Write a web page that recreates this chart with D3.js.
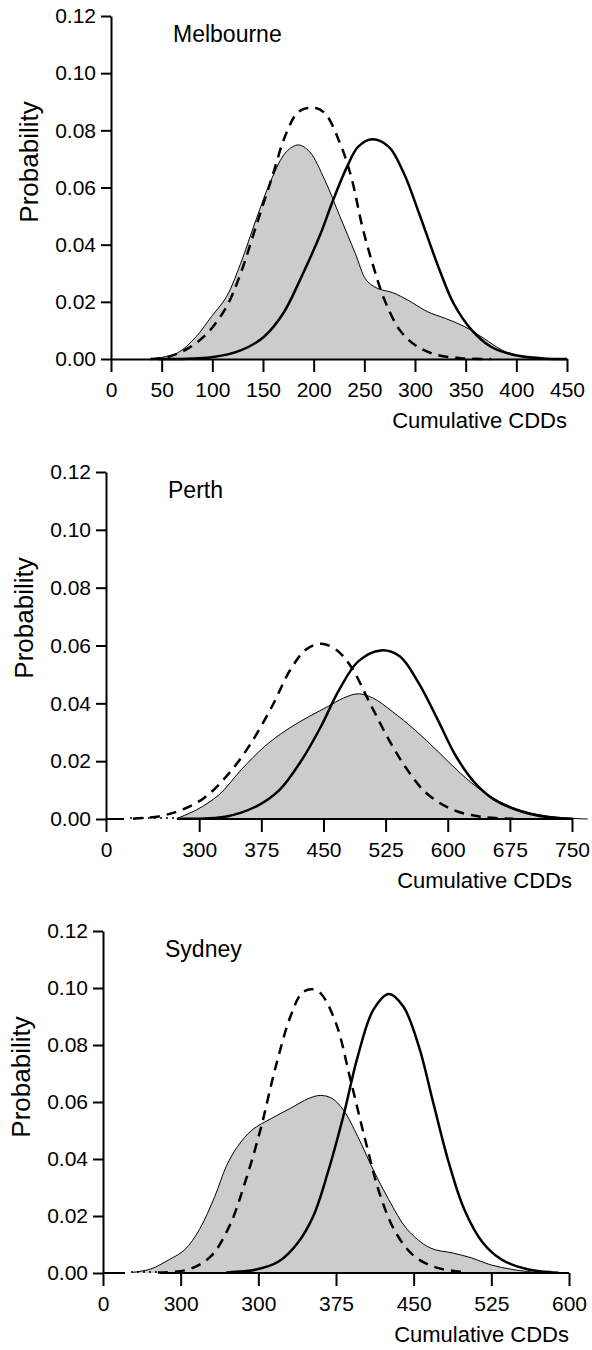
<!DOCTYPE html>
<html lang="en">
<head>
<meta charset="UTF-8">
<title>Cumulative CDDs</title>
<script src="https://d3js.org/d3.v7.min.js"></script>
<style>
  body { margin: 0; background: #fff; }
  svg { display: block; }
  text { font-family: "Liberation Sans", Arial, sans-serif; fill: #000; }
  .tick text { font-size: 21px; }
  .tick line, .domain, .base { stroke: #000; stroke-width: 2; }
</style>
</head>
<body>
<svg id="canvas" width="592" height="1350"></svg>
<script>
// y axis shared by all panels
let yTicks = [0, 0.02, 0.04, 0.06, 0.08, 0.10, 0.12]

// Melbourne
let melTicks = [0, 50, 100, 150, 200, 250, 300, 350, 400, 450]
let melTickLabels = ['0', '50', '100', '150', '200', '250', '300', '350', '400', '450']
let melObserved = [[39, 0], [65, 0.002], [84, 0.0078], [99, 0.0148], [114, 0.0218], [128, 0.0335], [143, 0.0486],
  [158, 0.0626], [173, 0.0725], [185, 0.0749], [196, 0.0725], [211, 0.0626], [226, 0.0498], [241, 0.037],
  [252, 0.0276], [263, 0.0247], [278, 0.0232], [293, 0.0206], [312, 0.0166], [330, 0.0142], [349, 0.0113],
  [368, 0.0072], [386, 0.0031], [405, 0.0008], [420, 0]]
let melDashed = [[39, 0], [57, 0.0008], [76, 0.0037], [95, 0.009], [114, 0.0183], [128, 0.03], [143, 0.0463],
  [158, 0.0626], [173, 0.079], [185, 0.0865], [199, 0.088], [211, 0.086], [226, 0.0755], [237, 0.0638],
  [248, 0.0463], [259, 0.0323], [270, 0.0206], [285, 0.0101], [300, 0.0049], [319, 0.0017], [345, 0.0003], [375, 0]]
let melSolid = [[46, 0], [99, 0.0006], [128, 0.003], [151, 0.0078], [170, 0.016], [188, 0.0288], [207, 0.044],
  [218, 0.0545], [233, 0.0673], [244, 0.0743], [258, 0.0769], [274, 0.0743], [289, 0.065], [304, 0.051],
  [323, 0.0323], [338, 0.0195], [356, 0.0101], [375, 0.0043], [398, 0.0014], [431, 0.0001], [450, 0]]

// Perth
let perthTicks = [187.5, 300, 375, 450, 525, 600, 675, 750]
let perthTickLabels = ['0', '300', '375', '450', '525', '600', '675', '750']
let perthObserved = [[274, 0.0003], [297, 0.0032], [324, 0.0084], [351, 0.0171], [379, 0.0251], [406, 0.0309],
  [433, 0.0355], [456, 0.039], [474, 0.0418], [492, 0.0433], [510, 0.0418], [533, 0.0372], [560, 0.0309],
  [588, 0.0234], [615, 0.0159], [642, 0.0096], [670, 0.005], [697, 0.0023], [724, 0.0009], [751, 0.0002], [769, 0]]
let perthDashed = [[220, 0.0001], [251, 0.0009], [279, 0.0032], [306, 0.0073], [333, 0.0148], [360, 0.0251],
  [388, 0.039], [410, 0.0516], [429, 0.0586], [447, 0.0606], [465, 0.0586], [483, 0.0528], [506, 0.0401],
  [529, 0.0274], [551, 0.0171], [574, 0.009], [606, 0.0032], [642, 0.0007], [679, 0.0001]]
let perthSolid = [[274, 0.0001], [333, 0.0009], [369, 0.0044], [397, 0.0101], [424, 0.0205], [447, 0.032],
  [469, 0.0447], [492, 0.0545], [519, 0.0583], [542, 0.0563], [565, 0.047], [588, 0.0343], [610, 0.0217],
  [633, 0.0124], [656, 0.0067], [688, 0.0027], [719, 0.0007], [751, 0.0001]]

// Sydney
let sydTicks = [150, 225, 300, 375, 450, 525, 600]
let sydTickLabels = ['0', '300', '300', '375', '450', '525', '600']
let sydObserved = [[178, 0.0002], [196, 0.0014], [214, 0.0047], [229, 0.0082], [243, 0.0152], [258, 0.0269],
  [269, 0.0374], [280, 0.0444], [294, 0.0502], [313, 0.0543], [331, 0.0578], [349, 0.0613], [360, 0.0623],
  [371, 0.0613], [382, 0.0573], [396, 0.0479], [411, 0.0362], [426, 0.0257], [444, 0.0152], [466, 0.0088],
  [488, 0.007], [506, 0.0053], [524, 0.0029], [546, 0.0012], [568, 0.0002]]
let sydDashed = [[203, 0.0002], [232, 0.0012], [254, 0.0058], [272, 0.0164], [287, 0.0316], [302, 0.0502],
  [316, 0.0713], [331, 0.09], [342, 0.0982], [351, 0.0996], [360, 0.0982], [375, 0.0876], [389, 0.0678],
  [404, 0.0456], [418, 0.0269], [433, 0.014], [451, 0.0058], [473, 0.0018], [502, 0.0002]]
let sydSolid = [[269, 0.0002], [298, 0.0012], [320, 0.0041], [338, 0.0105], [353, 0.0199], [367, 0.0351],
  [382, 0.0549], [396, 0.076], [411, 0.0923], [426, 0.0979], [440, 0.0935], [455, 0.0795], [469, 0.0596],
  [484, 0.0386], [499, 0.0222], [517, 0.0105], [535, 0.0047], [561, 0.0012], [590, 0.0001]]

let panels = [
  { name: 'Melbourne', domain: [0, 450], left: 111, right: 567, top: 16, bottom: 359,
    ticks: melTicks, labels: melTickLabels, observed: melObserved, dashed: melDashed, solid: melSolid },
  { name: 'Perth', domain: [187.5, 750], left: 106, right: 572, top: 472, bottom: 819,
    ticks: perthTicks, labels: perthTickLabels, observed: perthObserved, dashed: perthDashed, solid: perthSolid,
    stub: 18, breakEnd: 273 },
  { name: 'Sydney', domain: [150, 600], left: 103, right: 569, top: 931, bottom: 1273,
    ticks: sydTicks, labels: sydTickLabels, observed: sydObserved, dashed: sydDashed, solid: sydSolid,
    stub: 22, breakEnd: 205 }
]

let canvas = d3.select('#canvas')

let drawPanel = (p) => {
  let x = d3.scaleLinear().domain(p.domain).range([p.left, p.right])
  let y = d3.scaleLinear().domain([0, 0.12]).range([p.bottom, p.top])
  let g = canvas.append('g')

  let smooth = d3.curveCatmullRom.alpha(0.5)
  let area = d3.area()
    .x(d => x(d[0])).y0(y(0)).y1(d => Math.min(y(d[1]), y(0)))
    .curve(smooth)
  let line = d3.line()
    .x(d => x(d[0])).y(d => y(d[1]))
    .curve(smooth)

  g.append('path')
    .attr('d', area(p.observed))
    .attr('fill', '#cccccc')
    .attr('stroke', 'none')
  g.append('path')
    .attr('d', line(p.observed))
    .attr('fill', 'none')
    .attr('stroke', '#000')
    .attr('stroke-width', 1)
  g.append('path')
    .attr('d', line(p.dashed))
    .attr('fill', 'none')
    .attr('stroke', '#000')
    .attr('stroke-width', 2.5)
    .attr('stroke-dasharray', '10,7')
  g.append('path')
    .attr('d', line(p.solid))
    .attr('fill', 'none')
    .attr('stroke', '#000')
    .attr('stroke-width', 2.5)

  // x axis
  let xAxis = g.append('g')
    .attr('transform', 'translate(0,' + p.bottom + ')')
    .call(d3.axisBottom(x).tickValues(p.ticks).tickSize(13).tickPadding(10).tickSizeOuter(0)
      .tickFormat((d, i) => p.labels[i]))
  if (p.breakEnd) {
    // broken axis: short stub, dotted gap, then the axis line again
    xAxis.select('.domain').remove()
    g.append('line').attr('class', 'base')
      .attr('x1', p.left).attr('x2', p.left + p.stub)
      .attr('y1', p.bottom).attr('y2', p.bottom)
    g.append('line').attr('class', 'base')
      .attr('x1', x(p.breakEnd)).attr('x2', p.right)
      .attr('y1', p.bottom).attr('y2', p.bottom)
    g.append('line')
      .attr('x1', p.left + p.stub + 6).attr('x2', x(p.breakEnd))
      .attr('y1', p.bottom - 1).attr('y2', p.bottom - 1)
      .attr('stroke', '#000').attr('stroke-width', 1.5)
      .attr('stroke-dasharray', '2,4')
  }

  // y axis
  g.append('g')
    .attr('transform', 'translate(' + p.left + ',0)')
    .call(d3.axisLeft(y).tickValues(yTicks).tickSize(10).tickPadding(5).tickSizeOuter(0)
      .tickFormat(d3.format('.2f')))

  g.selectAll('.tick text').attr('fill', '#000')

  g.append('text')
    .attr('x', p.left + 62)
    .attr('y', p.top + 26)
    .style('font-size', '23px')
    .text(p.name)

  g.append('text')
    .attr('x', p.right)
    .attr('y', p.bottom + 69)
    .attr('text-anchor', 'end')
    .style('font-size', '22px')
    .text('Cumulative CDDs')

  g.append('text')
    .attr('transform', 'translate(' + (p.left - 73) + ',' + (p.top + 146) + ') rotate(-90)')
    .attr('text-anchor', 'middle')
    .style('font-size', '26px')
    .text('Probability')
}

panels.forEach(drawPanel)
</script>
</body>
</html>
